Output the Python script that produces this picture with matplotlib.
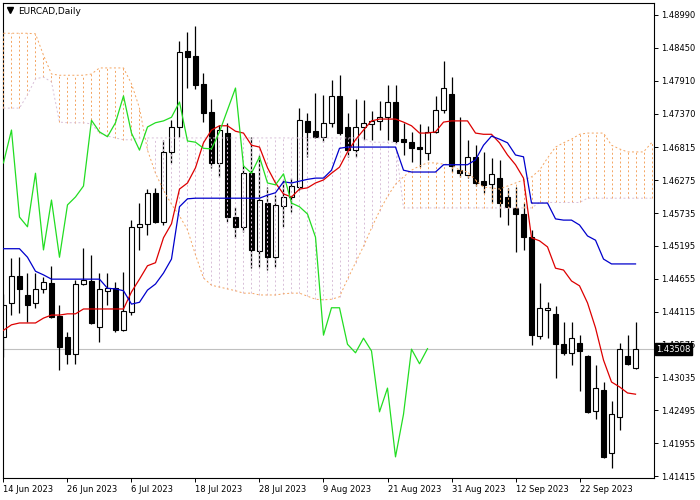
import numpy as np
import matplotlib
matplotlib.use('Agg')
import matplotlib.pyplot as plt

# EURCAD daily candles, 14 Jun 2023 .. 3 Oct 2023
opens = [1.4370, 1.4426, 1.4470, 1.4439, 1.4426, 1.4449, 1.4459, 1.4404, 1.4370, 1.4342,
         1.4457, 1.4462, 1.4386, 1.4446, 1.4450, 1.4381, 1.4411, 1.4551, 1.4556, 1.4607,
         1.4559, 1.4674, 1.4715, 1.4840, 1.4832, 1.4786, 1.4740, 1.4656, 1.4705, 1.4567,
         1.4551, 1.4639, 1.4511, 1.4590, 1.4501, 1.4585, 1.4600, 1.4616, 1.4725, 1.4708,
         1.4699, 1.4722, 1.4766, 1.4715, 1.4677, 1.4715, 1.4720, 1.4725, 1.4731, 1.4756,
         1.4695, 1.4690, 1.4682, 1.4672, 1.4707, 1.4743, 1.4769, 1.4644, 1.4636, 1.4666,
         1.4626, 1.4621, 1.4631, 1.4600, 1.4582, 1.4572, 1.4534, 1.4372, 1.4414, 1.4408,
         1.4358, 1.4344, 1.4360, 1.4339, 1.4248, 1.4283, 1.4179, 1.4239, 1.4339, 1.4319]
highs = [1.4441, 1.4500, 1.4501, 1.4475, 1.4475, 1.4468, 1.4487, 1.4422, 1.4378, 1.4464,
         1.4516, 1.4505, 1.4475, 1.4475, 1.4460, 1.4477, 1.4562, 1.4590, 1.4613, 1.4615,
         1.4694, 1.4726, 1.4856, 1.4871, 1.4881, 1.4804, 1.4761, 1.4718, 1.4722, 1.4584,
         1.4653, 1.4699, 1.4669, 1.4616, 1.4603, 1.4628, 1.4631, 1.4746, 1.4738, 1.4771,
         1.4768, 1.4792, 1.4800, 1.4738, 1.4761, 1.4759, 1.4741, 1.4758, 1.4784, 1.4784,
         1.4722, 1.4707, 1.4720, 1.4717, 1.4766, 1.4823, 1.4797, 1.4731, 1.4694, 1.4685,
         1.4674, 1.4664, 1.4661, 1.4615, 1.4616, 1.4590, 1.4546, 1.4459, 1.4427, 1.4421,
         1.4395, 1.4395, 1.4373, 1.4340, 1.4324, 1.4296, 1.4265, 1.4360, 1.4373, 1.4395]
lows = [1.4337, 1.4406, 1.4409, 1.4395, 1.4418, 1.4442, 1.4401, 1.4316, 1.4326, 1.4326,
        1.4455, 1.4391, 1.4362, 1.4422, 1.4378, 1.4380, 1.4406, 1.4513, 1.4538, 1.4557,
        1.4554, 1.4656, 1.4699, 1.4779, 1.4777, 1.4723, 1.4648, 1.4633, 1.4559, 1.4533,
        1.4542, 1.4483, 1.4485, 1.4480, 1.4485, 1.4551, 1.4575, 1.4611, 1.4666, 1.4697,
        1.4690, 1.4715, 1.4702, 1.4666, 1.4666, 1.4694, 1.4694, 1.4710, 1.4694, 1.4689,
        1.4669, 1.4657, 1.4649, 1.4661, 1.4705, 1.4738, 1.4641, 1.4633, 1.4631, 1.4618,
        1.4607, 1.4590, 1.4567, 1.4554, 1.4510, 1.4513, 1.4357, 1.4367, 1.4368, 1.4303,
        1.4340, 1.4324, 1.4281, 1.4245, 1.4235, 1.4171, 1.4155, 1.4217, 1.4324, 1.4317]
closes = [1.4422, 1.4470, 1.4449, 1.4422, 1.4449, 1.4460, 1.4403, 1.4353, 1.4342, 1.4457,
          1.4464, 1.4393, 1.4449, 1.4450, 1.4381, 1.4413, 1.4551, 1.4556, 1.4607, 1.4559,
          1.4674, 1.4715, 1.4838, 1.4830, 1.4784, 1.4738, 1.4656, 1.4710, 1.4567, 1.4551,
          1.4639, 1.4513, 1.4595, 1.4501, 1.4587, 1.4600, 1.4618, 1.4726, 1.4707, 1.4699,
          1.4722, 1.4766, 1.4705, 1.4677, 1.4715, 1.4722, 1.4725, 1.4731, 1.4756, 1.4692,
          1.4690, 1.4680, 1.4679, 1.4707, 1.4743, 1.4779, 1.4651, 1.4639, 1.4666, 1.4623,
          1.4620, 1.4638, 1.4590, 1.4584, 1.4572, 1.4534, 1.4373, 1.4418, 1.4418, 1.4358,
          1.4344, 1.4368, 1.4347, 1.4247, 1.4286, 1.4173, 1.4243, 1.4350, 1.4326, 1.43508]

# Ichimoku lines
tenkan = [1.4381, 1.4390, 1.4393, 1.4393, 1.4393, 1.4401, 1.4406, 1.4406, 1.4408, 1.4408,
          1.4416, 1.4416, 1.4416, 1.4416, 1.4416, 1.4416, 1.4444, 1.4465, 1.4487, 1.4492,
          1.4533, 1.4556, 1.4613, 1.4623, 1.4648, 1.4689, 1.4710, 1.4717, 1.4717, 1.4708,
          1.4705, 1.4685, 1.4682, 1.4648, 1.4623, 1.4605, 1.4600, 1.4613, 1.4615, 1.4623,
          1.4628, 1.4639, 1.4649, 1.4674, 1.4694, 1.4710, 1.4725, 1.4728, 1.4728, 1.4728,
          1.4723, 1.4717, 1.4705, 1.4705, 1.4707, 1.4723, 1.4725, 1.4725, 1.4725, 1.4705,
          1.4703, 1.4703, 1.4689, 1.4669, 1.4653, 1.4631, 1.4533, 1.4528, 1.4518, 1.4483,
          1.4480, 1.4462, 1.4454, 1.4426, 1.4385, 1.4332, 1.4296, 1.4288, 1.4278, 1.4276]
kijun = [1.4515, 1.4515, 1.4515, 1.4501, 1.4478, 1.4472, 1.4465, 1.4465, 1.4465, 1.4465,
         1.4465, 1.4465, 1.4465, 1.4450, 1.4449, 1.4446, 1.4424, 1.4427, 1.4447, 1.4457,
         1.4475, 1.4498, 1.4584, 1.4597, 1.4598, 1.4598, 1.4598, 1.4598, 1.4598, 1.4598,
         1.4598, 1.4598, 1.4598, 1.4603, 1.4607, 1.4625, 1.4623, 1.4626, 1.4629, 1.4631,
         1.4631, 1.4644, 1.4680, 1.4682, 1.4682, 1.4682, 1.4682, 1.4682, 1.4682, 1.4682,
         1.4644, 1.4641, 1.4641, 1.4641, 1.4641, 1.4653, 1.4653, 1.4653, 1.4653, 1.4661,
         1.4685, 1.4700, 1.4695, 1.4689, 1.4669, 1.4666, 1.4590, 1.4590, 1.4590, 1.4564,
         1.4562, 1.4562, 1.4554, 1.4536, 1.4529, 1.4498, 1.4490, 1.4490, 1.4490, 1.4490]
span_a = [1.4869, 1.4869, 1.4869, 1.4869, 1.4868, 1.4833, 1.4802, 1.4800, 1.4800, 1.4800,
          1.4800, 1.4802, 1.4812, 1.4812, 1.4812, 1.4812, 1.4786, 1.4746, 1.4677, 1.4639,
          1.4611, 1.4588, 1.4569, 1.4546, 1.4505, 1.4467, 1.4455, 1.4452, 1.4449, 1.4446,
          1.4442, 1.4442, 1.4439, 1.4439, 1.4439, 1.4441, 1.4442, 1.4442, 1.4437, 1.4432,
          1.4431, 1.4432, 1.4436, 1.4465, 1.4492, 1.4519, 1.4549, 1.4577, 1.4601, 1.4621,
          1.4633, 1.4644, 1.4651, 1.4656, 1.4656, 1.4654, 1.4653, 1.4644, 1.4641, 1.4628,
          1.4616, 1.4615, 1.4613, 1.4618, 1.4623, 1.4628, 1.4633, 1.4644, 1.4664, 1.4682,
          1.4689, 1.4695, 1.4703, 1.4705, 1.4705, 1.4705, 1.4685, 1.4679, 1.4674, 1.4674,
          1.4674, 1.4689]
span_b = [1.4746, 1.4746, 1.4746, 1.4768, 1.4794, 1.4797, 1.4789, 1.4723, 1.4722, 1.4722,
          1.4722, 1.4720, 1.4705, 1.4700, 1.4697, 1.4694, 1.4694, 1.4697, 1.4697, 1.4697,
          1.4697, 1.4697, 1.4697, 1.4697, 1.4697, 1.4697, 1.4697, 1.4697, 1.4697, 1.4697,
          1.4697, 1.4697, 1.4697, 1.4697, 1.4697, 1.4697, 1.4697, 1.4697, 1.4697, 1.4697,
          1.4697, 1.4697, 1.4697, 1.4697, 1.4697, 1.4697, 1.4690, 1.4690, 1.4690, 1.4690,
          1.4582, 1.4582, 1.4582, 1.4582, 1.4582, 1.4582, 1.4582, 1.4582, 1.4582, 1.4582,
          1.4582, 1.4582, 1.4582, 1.4582, 1.4582, 1.4582, 1.4582, 1.4591, 1.4591, 1.4591,
          1.4591, 1.4591, 1.4591, 1.4598, 1.4598, 1.4598, 1.4598, 1.4598, 1.4598, 1.4598,
          1.4598, 1.4598]
chikou = [1.4656, 1.4710, 1.4567, 1.4551, 1.4639, 1.4513, 1.4595, 1.4501, 1.4587, 1.4600,
          1.4618, 1.4726, 1.4707, 1.4699, 1.4722, 1.4766, 1.4705, 1.4677, 1.4715, 1.4722,
          1.4725, 1.4731, 1.4756, 1.4692, 1.4690, 1.4680, 1.4679, 1.4707, 1.4743, 1.4779,
          1.4651, 1.4639, 1.4666, 1.4623, 1.4620, 1.4638, 1.4590, 1.4584, 1.4572, 1.4534,
          1.4373, 1.4418, 1.4418, 1.4358, 1.4344, 1.4368, 1.4347, 1.4247, 1.4286, 1.4173,
          1.4243, 1.4350, 1.4326, 1.43508]

date_labels = ['14 Jun 2023', '26 Jun 2023', '6 Jul 2023', '18 Jul 2023', '28 Jul 2023',
               '9 Aug 2023', '21 Aug 2023', '31 Aug 2023', '12 Sep 2023', '22 Sep 2023']
date_pos = [0, 8, 16, 24, 32, 40, 48, 56, 64, 72]
price_ticks = [1.48990, 1.48450, 1.47910, 1.47370, 1.46815, 1.46275, 1.45735, 1.45195,
               1.44655, 1.44115, 1.43575, 1.43035, 1.42495, 1.41955, 1.41415]
last_price = 1.43508

fig = plt.figure(figsize=(7, 5), dpi=100)
ax = fig.add_axes([3/700, 22/500, 651/700, 475/500])

o = np.array(opens); h = np.array(highs); l = np.array(lows); c = np.array(closes)
x = np.arange(len(o))
up = c >= o

# candles
ax.vlines(x, l, h, color='black', lw=0.9, zorder=2)
ax.bar(x[up], (c - o)[up], bottom=o[up], width=0.6, color='white', edgecolor='black', lw=0.8, zorder=2)
ax.bar(x[~up], (o - c)[~up], bottom=c[~up], width=0.6, color='black', edgecolor='black', lw=0.8, zorder=2)

# kumo hatching (sandy brown where span A is on top, thistle where span B is)
sa = np.array(span_a); sb = np.array(span_b)
xs = np.arange(len(sa))
a_up = sa >= sb
ax.vlines(xs[a_up], sb[a_up], sa[a_up], color='#f4a460', lw=0.7, linestyles=(0, (2, 2.5)), zorder=3)
ax.vlines(xs[~a_up], sa[~a_up], sb[~a_up], color='#d8bfd8', lw=0.7, linestyles=(0, (2, 2.5)), zorder=3)
ax.plot(xs, sa, color='#f4a460', lw=0.7, ls=(0, (2, 2.5)), zorder=3)
ax.plot(xs, sb, color='#d8bfd8', lw=0.7, ls=(0, (2, 2.5)), zorder=3)

# current price line
ax.axhline(last_price, color='#c0c0c0', lw=0.8, zorder=1)

# ichimoku lines
ax.plot(x, tenkan, color='#dd0000', lw=0.9, zorder=4)
ax.plot(x, kijun, color='#0000cc', lw=0.9, zorder=4)
ax.plot(np.arange(len(chikou)), chikou, color='#22dd22', lw=0.9, zorder=4)

ax.set_xlim(-0.06, 81.31)
ax.set_ylim(1.41383, 1.49187)

ax.set_xticks(date_pos)
ax.set_xticklabels(date_labels)
for lab in ax.get_xticklabels():
    lab.set_horizontalalignment('left')
ax.set_yticks(price_ticks)
ax.set_yticklabels(['%.5f' % v for v in price_ticks])
ax.yaxis.tick_right()
ax.tick_params(axis='both', labelsize=6, length=3, width=0.7, pad=2, colors='black')

for s in ax.spines.values():
    s.set_color('black')
    s.set_linewidth(0.8)

# header and price label
fig.add_artist(plt.Line2D([10/700], [1 - 10/500], marker='v', ms=4, color='black',
                          transform=fig.transFigure))
fig.text(18/700, 1 - 11/500, 'EURCAD,Daily', fontsize=6.5, va='center', ha='left')
fig.text(656/700, 1 - 349/500, '%.5f' % last_price, fontsize=6, color='white', va='center', ha='left',
         bbox=dict(boxstyle='square,pad=0.15', fc='black', ec='black'))

fig.savefig('out.png', dpi=100)
